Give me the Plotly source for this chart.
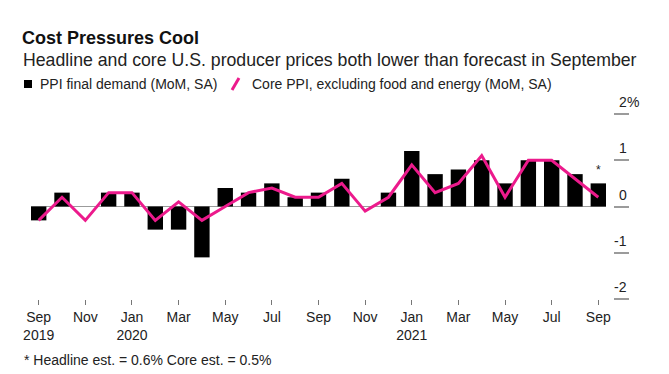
import plotly.graph_objects as go

# ---- data ----
months = ["Sep 2019", "Oct 2019", "Nov 2019", "Dec 2019", "Jan 2020", "Feb 2020",
          "Mar 2020", "Apr 2020", "May 2020", "Jun 2020", "Jul 2020", "Aug 2020",
          "Sep 2020", "Oct 2020", "Nov 2020", "Dec 2020", "Jan 2021", "Feb 2021",
          "Mar 2021", "Apr 2021", "May 2021", "Jun 2021", "Jul 2021", "Aug 2021",
          "Sep 2021"]
ppi_final_demand = [-0.3, 0.3, 0.0, 0.3, 0.3, -0.5, -0.5, -1.1, 0.4, 0.3, 0.5, 0.2,
                    0.3, 0.6, 0.0, 0.3, 1.2, 0.7, 0.8, 1.0, 0.5, 1.0, 1.0, 0.7, 0.5]
core_ppi = [-0.3, 0.2, -0.3, 0.3, 0.3, -0.3, 0.1, -0.3, 0.0, 0.3, 0.4, 0.2,
            0.2, 0.5, -0.1, 0.2, 0.9, 0.3, 0.5, 1.1, 0.2, 1.0, 1.0, 0.6, 0.2]
x_tick_months = ["Sep 2019", "Nov 2019", "Jan 2020", "Mar 2020", "May 2020", "Jul 2020",
                 "Sep 2020", "Nov 2020", "Jan 2021", "Mar 2021", "May 2021", "Jul 2021",
                 "Sep 2021"]
x_tick_text = ["Sep<br>2019", "Nov", "Jan<br>2020", "Mar", "May", "Jul", "Sep", "Nov",
               "Jan<br>2021", "Mar", "May", "Jul", "Sep"]
y_tick_vals = [-2, -1, 0, 1, 2]
y_tick_text = ["-2", "-1", "0", "1", "2"]

title = "Cost Pressures Cool"
subtitle = "Headline and core U.S. producer prices both lower than forecast in September"
legend_bar = "PPI final demand (MoM, SA)"
legend_line = "Core PPI, excluding food and energy (MoM, SA)"
footnote = "* Headline est. = 0.6% Core est. = 0.5%"

# ---- layout geometry (pixels) ----
W, H = 669, 374
L, R, T, B = 31, 613, 114, 299
FONT = "Liberation Sans, Arial, sans-serif"
PINK = "#ec1a8c"
GRAY = "#9b9b9b"


def xp(px):
    return (px - L) / (R - L)


def yp(py):
    return (B - py) / (B - T)


fig = go.Figure()
fig.add_trace(go.Bar(x=months, y=ppi_final_demand, name=legend_bar,
                     marker=dict(color="black", line=dict(width=0)), width=0.66))
fig.add_trace(go.Scatter(x=months, y=core_ppi, name=legend_line, mode="lines",
                         line=dict(color=PINK, width=3)))

annotations = []
# subtitle
annotations.append(dict(text=subtitle, xref="paper", yref="paper", x=xp(21), y=yp(60),
                        xanchor="left", yanchor="middle", showarrow=False,
                        font=dict(family=FONT, size=17.7, color="#222")))
# legend texts
annotations.append(dict(text=legend_bar, xref="paper", yref="paper", x=xp(38), y=yp(84),
                        xanchor="left", yanchor="middle", showarrow=False,
                        font=dict(family=FONT, size=14, color="#222")))
annotations.append(dict(text=legend_line, xref="paper", yref="paper", x=xp(250), y=yp(84),
                        xanchor="left", yanchor="middle", showarrow=False,
                        font=dict(family=FONT, size=14, color="#222")))
# footnote
annotations.append(dict(text=footnote, xref="paper", yref="paper", x=xp(22), y=yp(360),
                        xanchor="left", yanchor="middle", showarrow=False,
                        font=dict(family=FONT, size=14, color="#222")))
# y tick labels (above tick lines, numbers right-aligned)
for v, t in zip(y_tick_vals, y_tick_text):
    annotations.append(dict(text=t, xref="paper", yref="y", x=1, y=v, xshift=16,
                            yshift=12, xanchor="right", yanchor="middle", showarrow=False,
                            font=dict(family=FONT, size=14, color="#222")))
annotations.append(dict(text="%", xref="paper", yref="y", x=1, y=y_tick_vals[-1], xshift=12,
                        yshift=12, xanchor="left", yanchor="middle", showarrow=False,
                        font=dict(family=FONT, size=14, color="#222")))
# estimate marker
annotations.append(dict(text="*", x=months[-1], y=ppi_final_demand[-1], yshift=13,
                        xanchor="center", yanchor="middle", showarrow=False,
                        font=dict(family=FONT, size=12, color="#222")))

shapes = [
    # zero line across bars
    dict(type="line", xref="x", yref="y", x0=-0.33, x1=len(months) - 1 + 0.33, y0=0, y1=0,
         line=dict(color=GRAY, width=1), layer="below"),
    # legend swatches
    dict(type="rect", xref="paper", yref="paper", x0=xp(24), x1=xp(32), y0=yp(88), y1=yp(80),
         fillcolor="black", line=dict(width=0)),
    dict(type="line", xref="paper", yref="paper", x0=xp(232), x1=xp(239), y0=yp(90), y1=yp(78),
         line=dict(color=PINK, width=3)),
]

fig.update_layout(
    width=W, height=H,
    margin=dict(l=L, r=W - R, t=T, b=H - B, pad=0),
    paper_bgcolor="white", plot_bgcolor="white",
    showlegend=False,
    title=dict(text="<b>" + title + "</b>", xref="container", yref="container",
               x=22 / W, y=1 - 38 / H, xanchor="left", yanchor="middle",
               font=dict(family=FONT, size=18, color="#111")),
    font=dict(family=FONT, size=14, color="#222"),
    bargap=0.34,
    xaxis=dict(type="category", range=[-0.33, len(months) - 1 + 0.63],
               tickmode="array", tickvals=x_tick_months, ticktext=x_tick_text,
               ticks="outside", ticklen=5, tickwidth=1, tickcolor="#777",
               showgrid=False, zeroline=False, showline=False,
               tickfont=dict(family=FONT, size=14, color="#222")),
    yaxis=dict(side="right", range=[-2, 2], tickmode="array", tickvals=y_tick_vals,
               showticklabels=False, ticks="outside", ticklen=15, tickwidth=2,
               tickcolor=GRAY, showgrid=False, zeroline=False, showline=False),
    annotations=annotations,
    shapes=shapes,
)

fig.write_html("out.html", config={"displayModeBar": False},
               post_script="document.body.style.margin='0';document.body.style.overflow='hidden';")
